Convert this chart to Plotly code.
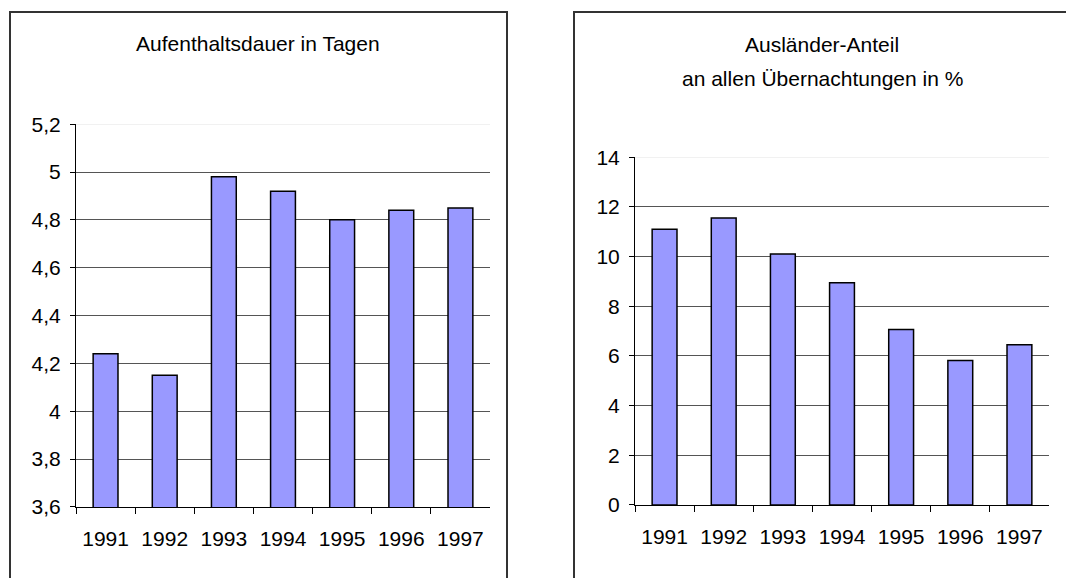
import plotly.graph_objects as go

years = ["1991", "1992", "1993", "1994", "1995", "1996", "1997"]
aufenthaltsdauer = [4.24, 4.15, 4.98, 4.92, 4.80, 4.84, 4.85]
auslaender_anteil = [11.1, 11.55, 10.1, 8.95, 7.06, 5.81, 6.45]

title_left = "Aufenthaltsdauer in Tagen"
title_right_1 = "Ausländer-Anteil"
title_right_2 = "an allen Übernachtungen in %"

W, H = 1066, 578
FONT = "Liberation Sans, Arial, sans-serif"
FS = 21
BAR_COLOR = "#9999FF"
GRID = "#555555"


def px(x):
    return x / W


def py(y):
    # screen-pixel y to paper fraction (calibrated to the rendered page)
    return 1 - (y - 12) / 554


fig = go.Figure()
fig.add_trace(go.Bar(x=years, y=aufenthaltsdauer, xaxis="x", yaxis="y",
                     marker=dict(color=BAR_COLOR, line=dict(color="black", width=1.5)),
                     showlegend=False, hoverinfo="x+y"))
fig.add_trace(go.Bar(x=years, y=auslaender_anteil, xaxis="x2", yaxis="y2",
                     marker=dict(color=BAR_COLOR, line=dict(color="black", width=1.5)),
                     showlegend=False, hoverinfo="x+y"))

common_x = dict(type="category", showline=True, linecolor="black", linewidth=1,
                ticks="outside", tickson="boundaries", ticklen=6, tickcolor="black",
                showgrid=False, zeroline=False, ticklabelstandoff=13,
                tickfont=dict(family=FONT, size=FS, color="black"), fixedrange=True)
common_y = dict(showline=True, linecolor="black", linewidth=1, ticks="outside",
                ticklen=5, tickcolor="black", showgrid=True, gridcolor=GRID,
                gridwidth=1, zeroline=False, ticklabelstandoff=5,
                tickfont=dict(family=FONT, size=FS, color="black"), fixedrange=True)

fig.update_layout(
    width=W, height=H, margin=dict(l=0, r=0, t=0, b=0),
    paper_bgcolor="white", plot_bgcolor="white",
    separators=", ", bargap=0.58, showlegend=False,
    xaxis=dict(domain=[px(76), px(490)], anchor="y", **common_x),
    yaxis=dict(domain=[py(506), py(124)], anchor="x", range=[3.6, 5.2], dtick=0.2, **common_y),
    xaxis2=dict(domain=[px(635), px(1049)], anchor="y2", **common_x),
    yaxis2=dict(domain=[py(504), py(157)], anchor="x2", range=[0, 14], dtick=2, **common_y),
)

# light top gridlines
fig.add_shape(type="line", xref="x domain", yref="y", x0=0, x1=1, y0=5.2, y1=5.2,
              line=dict(color="#ececec", width=1.5), layer="above")
fig.add_shape(type="line", xref="x2 domain", yref="y2", x0=0, x1=1, y0=14, y1=14,
              line=dict(color="#ececec", width=1.5), layer="above")

# chart borders
border = dict(color="#333333", width=2)
fig.add_shape(type="path", xref="paper", yref="paper",
              path=f"M {px(10)} -0.1 L {px(10)} {py(12)} L {px(507)} {py(12)} L {px(507)} -0.1",
              line=border)
fig.add_shape(type="path", xref="paper", yref="paper",
              path=f"M {px(574)} -0.1 L {px(574)} {py(12)} L 1.05 {py(12)}",
              line=border)

# titles
fig.add_annotation(text=title_left, xref="paper", yref="paper", x=px(258), y=py(43),
                   xanchor="center", yanchor="middle", showarrow=False,
                   font=dict(family=FONT, size=FS, color="black"))
fig.add_annotation(text=title_right_1, xref="paper", yref="paper", x=px(822), y=py(44),
                   xanchor="center", yanchor="middle", showarrow=False,
                   font=dict(family=FONT, size=FS, color="black"))
fig.add_annotation(text=title_right_2, xref="paper", yref="paper", x=px(822), y=py(78),
                   xanchor="center", yanchor="middle", showarrow=False,
                   font=dict(family=FONT, size=FS, color="black"))

fig.write_html(
    "out.html",
    config={"displayModeBar": False},
    post_script="document.body.style.margin='0';document.body.style.overflow='hidden';",
)
